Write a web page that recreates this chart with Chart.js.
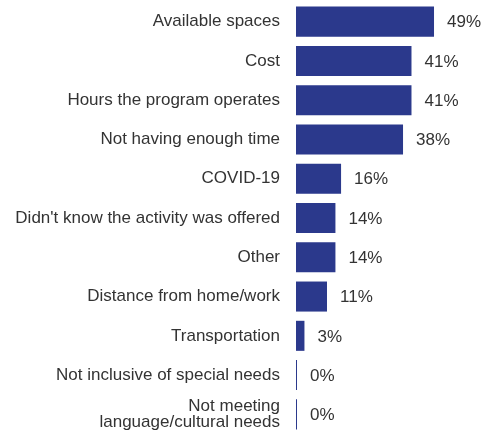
<!DOCTYPE html>
<html>
<head>
<meta charset="utf-8">
<script src="https://cdn.jsdelivr.net/npm/chart.js@4/dist/chart.umd.min.js"></script>
<style>
  html, body { margin: 0; padding: 0; background: #fff; }
  #wrap { width: 484px; height: 435px; }
</style>
</head>
<body>
<div id="wrap"><canvas id="chart"></canvas></div>
<script>
const categories = [
  'Available spaces',
  'Cost',
  'Hours the program operates',
  'Not having enough time',
  'COVID-19',
  "Didn't know the activity was offered",
  'Other',
  'Distance from home/work',
  'Transportation',
  'Not inclusive of special needs',
  ['Not meeting', 'language/cultural needs']
];
const percents = [49, 41, 41, 38, 16, 14, 14, 11, 3, 0, 0];

const textColor = '#333333';
const barColor = '#2b398c';

// draw the % labels at the end of each bar
const valueLabels = {
  id: 'valueLabels',
  afterDatasetsDraw(chart) {
    const ctx = chart.ctx;
    const meta = chart.getDatasetMeta(0);
    ctx.save();
    ctx.font = '17px "Liberation Sans", Arial, sans-serif';
    ctx.fillStyle = textColor;
    ctx.textAlign = 'left';
    ctx.textBaseline = 'middle';
    meta.data.forEach((bar, i) => {
      const end = Math.max(bar.x, bar.base + 1);
      ctx.fillText(percents[i] + '%', end + 13, bar.y + 1);
    });
    ctx.restore();
  }
};

new Chart(document.getElementById('chart'), {
  type: 'bar',
  data: {
    labels: categories,
    datasets: [{
      data: percents,
      backgroundColor: barColor,
      borderWidth: 0,
      minBarLength: 1,
      barPercentage: 0.765,
      categoryPercentage: 1
    }]
  },
  options: {
    indexAxis: 'y',
    responsive: true,
    maintainAspectRatio: false,
    animation: false,
    layout: { padding: { top: 2, bottom: 1, right: 19, left: 0 } },
    scales: {
      x: {
        display: false,
        min: 0,
        max: 60
      },
      y: {
        grid: { display: false },
        border: { display: false },
        ticks: {
          color: textColor,
          padding: 8,
          autoSkip: false,
          font: { family: '"Liberation Sans", Arial, sans-serif', size: 17, lineHeight: 0.95 }
        },
        afterFit(scale) {
          scale.width = 296;
          scale.paddingTop = 0;
          scale.paddingBottom = 0;
        }
      }
    },
    plugins: {
      legend: { display: false },
      tooltip: { enabled: false }
    }
  },
  plugins: [valueLabels]
});
</script>
</body>
</html>
